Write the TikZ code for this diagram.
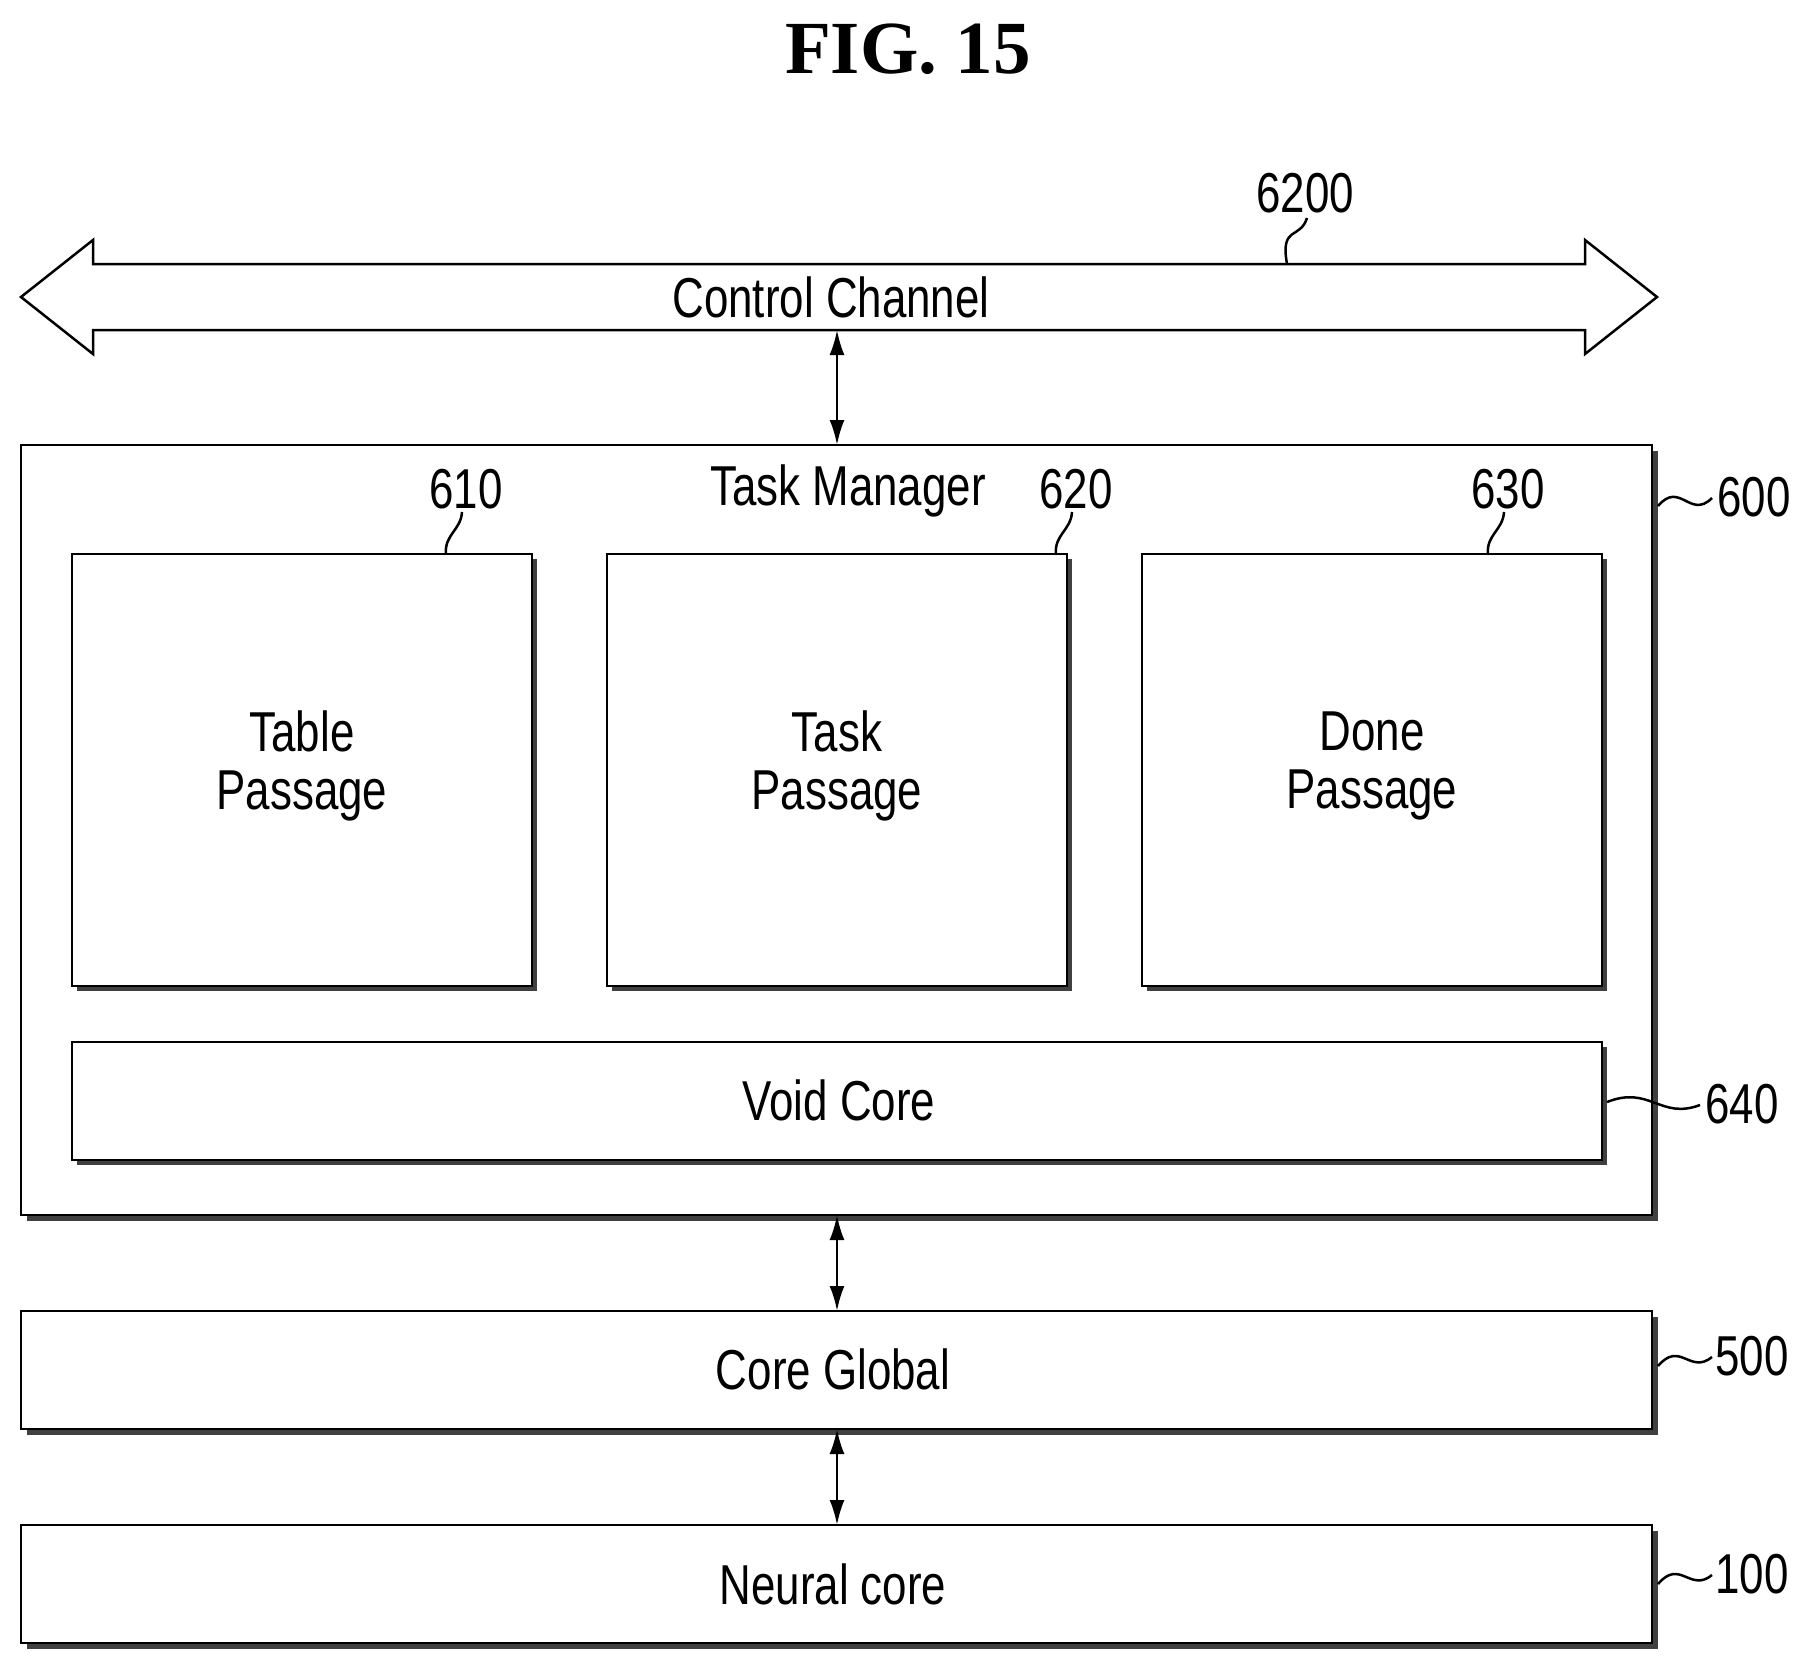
\documentclass[tikz,border=0pt]{standalone}
\usepackage{fontspec}
\setmainfont{Liberation Sans}[FakeStretch=0.78]
\newfontfamily\titlefont{Liberation Serif}
\usetikzlibrary{arrows.meta}
\begin{document}
\begin{tikzpicture}[x=0.4pt,y=-0.4pt,
  txt/.style={font=\fontsize{22.5}{23.5}\selectfont,align=center,inner sep=0},
  box/.style={draw,line width=1pt,fill=white},
  shad/.style={fill=black!75},
  arr/.style={{Latex[length=10pt,width=6pt]}-{Latex[length=10pt,width=6pt]},line width=1pt},
  sq/.style={line width=1pt}]
\useasboundingbox (0,0) rectangle (1805,1666);
\node[font=\titlefont\bfseries\fontsize{30}{34}\selectfont] (title) at (908,49) {FIG. 15};
% control channel
\draw[line width=1pt] (21,297) -- (93,240) -- (93,264) -- (1585,264) -- (1585,240) -- (1657,297) -- (1585,354) -- (1585,330) -- (93,330) -- (93,354) -- cycle;
\node[txt] (cc) at (831,297) {Control Channel};
\coordinate (ccb) at (837,330);
\node[txt] (l6200) at (1305,193) {6200};
\draw[sq] (1307,218) .. controls (1300,240) and (1280,225) .. (1287,264);
% task manager
\fill[shad] (27,451) rectangle (1658,1221);
\draw[box] (21,445) rectangle (1652,1215);
\coordinate (tmt) at (837,445);
\coordinate (tmb) at (837,1215);
\node[txt] (tm) at (848,491) {Task Manager};
\node[txt,anchor=west] (l600) at (1717,497) {600};
\draw[sq] (1658,506) .. controls (1680,480) and (1690,520) .. (1712,498);
\draw[arr] (ccb) -- (tmt);
% inner boxes
\foreach \xa/\xb/\nm/\t/\n/\lx in {72/532/b610/{Table\\Passage}/610/466, 607/1067/b620/{Task\\Passage}/620/1076, 1142/1602/b630/{Done\\Passage}/630/1508}{
  \fill[shad] (\xa+5,559) rectangle (\xb+5,991);
  \draw[box] (\xa,554) rectangle (\xb,986);
  \node[txt] (\nm) at ({(\xa+\xb)/2},766) {\t};
  \node[txt] (l\nm) at (\lx,489) {\n};
  \draw[sq] (\lx-20,554) .. controls (\lx-22,535) and (\lx-5,530) .. (\lx-4,512);
}
% void core
\fill[shad] (77,1047) rectangle (1607,1165);
\draw[box] (72,1042) rectangle (1602,1160);
\node[txt] (vc) at (839,1100) {Void Core};
\node[txt,anchor=west] (l640) at (1705,1104) {640};
\draw[sq] (1607,1102) .. controls (1650,1085) and (1660,1120) .. (1700,1105);
% core global
\fill[shad] (27,1317) rectangle (1658,1435);
\draw[box] (21,1311) rectangle (1652,1429);
\node[txt] (cg) at (833,1369) {Core Global};
\node[txt,anchor=west] (l500) at (1715,1356) {500};
\draw[sq] (1658,1366) .. controls (1680,1340) and (1690,1375) .. (1712,1357);
\coordinate (cgt) at (837,1311);
\coordinate (cgb) at (837,1429);
\draw[arr] (tmb) -- (cgt);
% neural core
\fill[shad] (27,1531) rectangle (1658,1649);
\draw[box] (21,1525) rectangle (1652,1643);
\node[txt] (nc) at (833,1584) {Neural core};
\node[txt,anchor=west] (l100) at (1715,1574) {100};
\draw[sq] (1658,1584) .. controls (1680,1558) and (1690,1593) .. (1712,1575);
\coordinate (nct) at (837,1525);
\draw[arr] (cgb) -- (nct);
\end{tikzpicture}
\end{document}
